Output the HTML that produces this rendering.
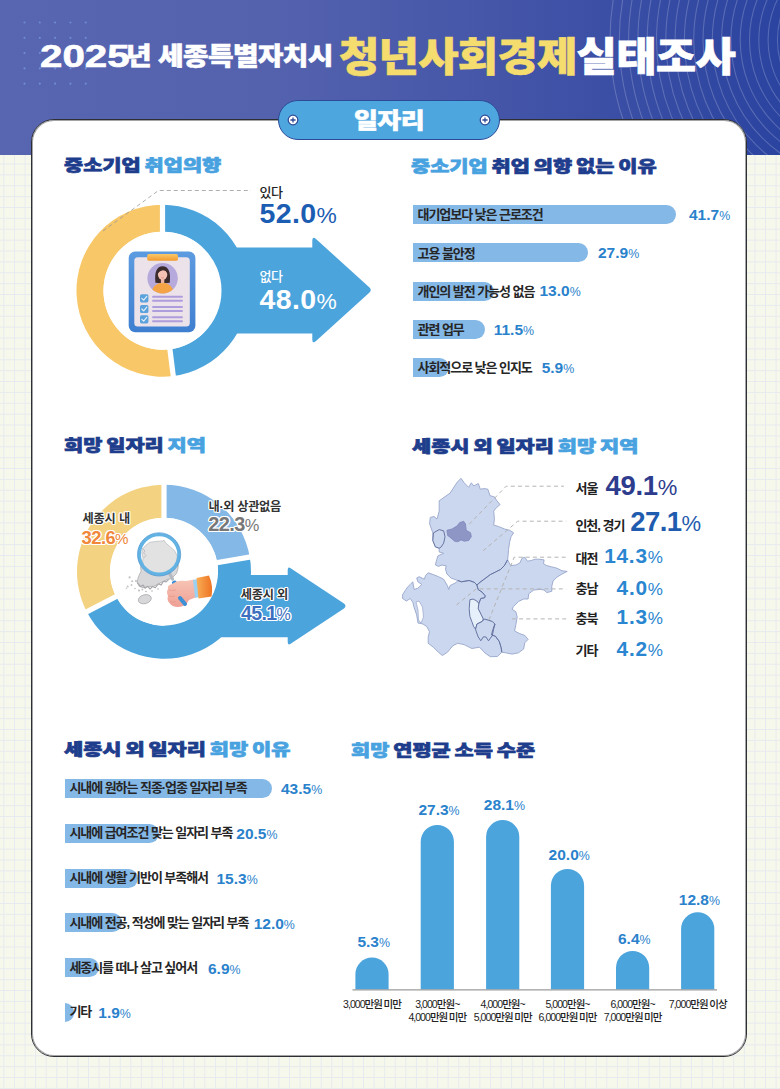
<!DOCTYPE html>
<html lang="ko">
<head>
<meta charset="utf-8">
<title>2025년 세종특별자치시 청년사회경제실태조사 - 일자리</title>
<style>
*{margin:0;padding:0;box-sizing:border-box}
html,body{width:780px;height:1089px;overflow:hidden}
body{position:relative;font-family:"Liberation Sans","Noto Sans CJK KR",sans-serif;color:#222;
background-color:#f6f8ec;
background-image:linear-gradient(to right,#e7eaef 1px,transparent 1px),linear-gradient(to bottom,#e7eaef 1px,transparent 1px);
background-size:10.583px 10.886px;background-position:3.4px 0.4px}
#hdr{position:absolute;left:0;top:0;width:780px;height:155px;background:linear-gradient(90deg,#5865b0 0%,#5462ae 35%,#4455a8 65%,#2b44a0 100%);overflow:hidden}
#card{position:absolute;left:31px;top:119px;width:716px;height:938px;background:#fff;border:1px solid #2e2f34;border-radius:23px;box-shadow:inset 0 0 0 1px rgba(52,53,58,0.45)}
.tx{position:absolute;white-space:nowrap;line-height:1;font-family:"Liberation Sans","Noto Sans CJK KR",sans-serif}
.nm{position:absolute;white-space:nowrap;line-height:1;font-family:"Liberation Sans","Noto Sans CJK KR",sans-serif}
.sec{position:absolute;white-space:nowrap;line-height:1;font-weight:900;color:#1e3d8c;-webkit-text-stroke:0.7px currentColor;font-family:"Liberation Sans","Noto Sans CJK KR",sans-serif}
.sec span{color:#48a2e0;-webkit-text-stroke:0.7px #48a2e0}
svg{position:absolute;overflow:visible}
</style>
</head>
<body>

<div id="hdr"><svg width="780" height="155" style="left:0;top:0">
<g fill="#7fa6e8" opacity="0.6">
<circle cx="24.5" cy="22.5" r="1.1"/>
<circle cx="24.5" cy="37.8" r="1.1"/>
<circle cx="24.5" cy="53.1" r="1.1"/>
<circle cx="24.5" cy="68.4" r="1.1"/>
<circle cx="24.5" cy="83.7" r="1.1"/>
<circle cx="39.8" cy="22.5" r="1.1"/>
<circle cx="39.8" cy="37.8" r="1.1"/>
<circle cx="39.8" cy="53.1" r="1.1"/>
<circle cx="39.8" cy="68.4" r="1.1"/>
<circle cx="39.8" cy="83.7" r="1.1"/>
<circle cx="55.1" cy="22.5" r="1.1"/>
<circle cx="55.1" cy="37.8" r="1.1"/>
<circle cx="55.1" cy="53.1" r="1.1"/>
<circle cx="55.1" cy="68.4" r="1.1"/>
<circle cx="55.1" cy="83.7" r="1.1"/>
<circle cx="70.4" cy="22.5" r="1.1"/>
<circle cx="70.4" cy="37.8" r="1.1"/>
<circle cx="70.4" cy="53.1" r="1.1"/>
<circle cx="70.4" cy="68.4" r="1.1"/>
<circle cx="70.4" cy="83.7" r="1.1"/>
<circle cx="85.7" cy="22.5" r="1.1"/>
<circle cx="85.7" cy="37.8" r="1.1"/>
<circle cx="85.7" cy="53.1" r="1.1"/>
<circle cx="85.7" cy="68.4" r="1.1"/>
<circle cx="85.7" cy="83.7" r="1.1"/>
</g><g fill="none" stroke="#ffffff" stroke-opacity="0.2" stroke-width="1.1">
<circle cx="860" cy="40" r="250.0"/>
<circle cx="860" cy="40" r="240.7"/>
<circle cx="860" cy="40" r="231.4"/>
<circle cx="860" cy="40" r="222.1"/>
<circle cx="860" cy="40" r="212.8"/>
<circle cx="860" cy="40" r="203.5"/>
<circle cx="860" cy="40" r="194.2"/>
<circle cx="860" cy="40" r="184.9"/>
<circle cx="860" cy="40" r="175.6"/>
<circle cx="860" cy="40" r="166.3"/>
<circle cx="860" cy="40" r="157.0"/>
<circle cx="860" cy="40" r="147.7"/>
<circle cx="860" cy="40" r="138.4"/>
<circle cx="860" cy="40" r="129.1"/>
<circle cx="860" cy="40" r="119.8"/>
<circle cx="860" cy="40" r="110.5"/>
<circle cx="860" cy="40" r="101.2"/>
<circle cx="860" cy="40" r="91.9"/>
<circle cx="860" cy="40" r="82.6"/>
<circle cx="860" cy="40" r="73.3"/>
<circle cx="860" cy="40" r="64.0"/>
<circle cx="860" cy="40" r="54.7"/>
</g></svg></div>
<div class="tx" style="left:40.2px;top:40.8px;font-size:31.5px;font-weight:700;color:#fff;transform:scaleX(1.28);transform-origin:0 0;font-family:'Liberation Sans',sans-serif;-webkit-text-stroke:0.6px #fff">2025</div>
<div class="tx" style="left:125.9px;top:44.5px;font-size:24.5px;font-weight:900;color:#fff;letter-spacing:-0.6px;transform:scaleX(1.1375);transform-origin:0 0;-webkit-text-stroke:0.5px #fff;">년 세종특별자치시</div>
<div class="tx" style="left:339px;top:36.5px;font-size:40px;font-weight:900;color:#fff;letter-spacing:-0.8px;transform:scaleX(1.1);transform-origin:0 0;-webkit-text-stroke:0.6px #fff;"><span style="color:#f4dc6e;-webkit-text-stroke:0.6px #f4dc6e">청년사회경제</span>실태조사</div>
<div id="card"></div>
<div style="position:absolute;left:277.5px;top:99.5px;width:222px;height:40.5px;border-radius:20px;background:#4ea6df;border:1.5px solid #2d4a98"></div>
<svg width="12" height="12" style="left:287.2px;top:114px"><circle cx="6" cy="6" r="4.8" fill="#fff" stroke="#2d4a98" stroke-width="1.2"/><path d="M3.4,6H8.6M6,3.4V8.6" stroke="#2d4a98" stroke-width="1.3"/></svg>
<svg width="12" height="12" style="left:478.5px;top:114px"><circle cx="6" cy="6" r="4.8" fill="#fff" stroke="#2d4a98" stroke-width="1.2"/><path d="M3.4,6H8.6M6,3.4V8.6" stroke="#2d4a98" stroke-width="1.3"/></svg>
<div class="tx" style="left:354px;top:110.5px;font-size:21.5px;font-weight:900;color:#fff;letter-spacing:-0.5px;transform:scaleX(1.21);transform-origin:0 0;-webkit-text-stroke:0.5px #fff;">일자리</div>
<div class="sec" style="left:64.2px;top:157.2px;font-size:16.3px;letter-spacing:0.0px;word-spacing:-1.5px;transform:scaleX(1.28);transform-origin:0 0">중소기업 <span>취업의향</span></div>
<div class="sec" style="left:410.5px;top:157.6px;font-size:16.3px;letter-spacing:0.0px;word-spacing:-1.5px;transform:scaleX(1.28);transform-origin:0 0"><span>중소기업</span> 취업 의향 없는 이유</div>
<div class="sec" style="left:64.3px;top:436.8px;font-size:16.3px;letter-spacing:0.0px;word-spacing:-1.5px;transform:scaleX(1.28);transform-origin:0 0">희망 일자리 <span>지역</span></div>
<div class="sec" style="left:411.7px;top:437.8px;font-size:16.3px;letter-spacing:0.0px;word-spacing:-1.5px;transform:scaleX(1.28);transform-origin:0 0">세종시 외 일자리 <span>희망 지역</span></div>
<div class="sec" style="left:64.4px;top:741.3px;font-size:16.3px;letter-spacing:0.0px;word-spacing:-1.5px;transform:scaleX(1.28);transform-origin:0 0">세종시 외 일자리 <span>희망 이유</span></div>
<div class="sec" style="left:350.8px;top:741.6px;font-size:16.3px;letter-spacing:0.0px;word-spacing:-1.5px;transform:scaleX(1.28);transform-origin:0 0"><span>희망</span> 연평균 소득 수준</div>
<svg width="780" height="1089" style="left:0;top:0">
<path d="M173.28,376.02 A86,86 0 1 1 162.50,204.70 L162.50,231.70 A59,59 0 1 0 169.89,349.23 Z" fill="#f7c768"/>
<path d="M162.50,204.70 A86,86 0 0 1 173.28,376.02 L169.89,349.23 A59,59 0 0 0 162.50,231.70 Z" fill="#4ca4dd"/>
<path d="M162.5,247.6 L312.3,247.6 L312.3,240.5 Q312.3,236 316,239 L369.5,287.5 Q372,290 369.5,292.5 L316,341 Q312.3,344 312.3,339.5 L312.3,333.6 L162.5,333.6 Z" fill="#4ca4dd"/>
<circle cx="162.5" cy="290.7" r="59" fill="#fff"/>
<line x1="162.50" y1="290.70" x2="162.50" y2="200.70" stroke="#fff" stroke-width="5.2"/>
<line x1="162.50" y1="290.70" x2="173.78" y2="379.99" stroke="#fff" stroke-width="5.2"/>
<path d="M103,231 L158.5,190.5 L251,190.5" fill="none" stroke="#9a9a9a" stroke-width="1" stroke-dasharray="4,3" opacity="0.8"/>
</svg>
<svg width="780" height="1089" style="left:0;top:0">
<defs>
<linearGradient id="cbg" x1="0" y1="0" x2="0" y2="1"><stop offset="0" stop-color="#5c9be0"/><stop offset="1" stop-color="#3f7fd0"/></linearGradient>
<linearGradient id="clipg" x1="0" y1="0" x2="0" y2="1"><stop offset="0" stop-color="#fbc86a"/><stop offset="1" stop-color="#f39a2e"/></linearGradient>
<clipPath id="avc"><circle cx="162.6" cy="278.3" r="15.2"/></clipPath>
</defs>
<rect x="128.7" y="251.5" width="66.7" height="80.7" rx="6.5" fill="url(#cbg)"/>
<rect x="134.3" y="257.3" width="55.5" height="69.1" rx="3.5" fill="#ece2ea"/>
<rect x="147.2" y="254" width="30.8" height="6.8" rx="1.8" fill="url(#clipg)"/>
<circle cx="162.6" cy="278.3" r="15.2" fill="#b6a9dc"/>
<g clip-path="url(#avc)">
<path d="M150.8,297 Q151,283.8 162.6,282.6 Q174.2,283.8 174.4,297 Z" fill="#f5a445"/>
<path d="M155.4,282.8 Q153.8,266.3 162.6,266.2 Q171.4,266.3 169.8,282.8 L166.8,283 L158.4,283 Z" fill="#3b2b2c"/>
<rect x="160.9" y="278" width="3.4" height="5.2" fill="#eab3a3"/>
<ellipse cx="162.6" cy="274.6" rx="4.7" ry="5.2" fill="#f3c2b4"/>
<path d="M157.6,273.5 Q157.8,268 162.6,268.1 Q167.4,268 167.6,273.5 Q166,270.3 162.8,270.2 Q160,270.5 157.6,273.5 Z" fill="#3b2b2c"/>
<path d="M161.2,277.6 Q162.6,278.4 164,277.6" stroke="#d9807a" stroke-width="0.6" fill="none"/>
</g>
<g fill="#5ba2dc">
<rect x="140" y="294.2" width="8.4" height="8.2" rx="1.6"/>
<rect x="140" y="304.9" width="8.4" height="8.2" rx="1.6"/>
<rect x="140" y="315.2" width="8.4" height="8.2" rx="1.6"/>
</g>
<g fill="none" stroke="#e3eff8" stroke-width="1.15" stroke-linecap="round" stroke-linejoin="round">
<path d="M141.8,298.3 L143.7,300.2 L146.8,296.4"/>
<path d="M141.8,309 L143.7,310.9 L146.8,307.1"/>
<path d="M141.8,319.3 L143.7,321.2 L146.8,317.4"/>
</g>
<g stroke="#ad9ddc" stroke-width="1.9" stroke-linecap="round">
<line x1="153" y1="296.7" x2="182" y2="296.7"/><line x1="153" y1="300.8" x2="182" y2="300.8"/>
<line x1="153" y1="307" x2="182" y2="307"/><line x1="153" y1="311" x2="182" y2="311"/>
<line x1="153" y1="317.2" x2="182" y2="317.2"/><line x1="153" y1="321.3" x2="182" y2="321.3"/>
</g>
</svg>
<div class="tx" style="left:259.5px;top:185.5px;font-size:13px;font-weight:500;color:#222;letter-spacing:-0.5px;">있다</div>
<div class="nm" style="left:259.5px;top:198.7px;font-size:28.5px;font-weight:700;color:#1b5db3;letter-spacing:0.4px;">52.0<span style="font-size:0.8em;font-weight:400;letter-spacing:0">%</span></div>
<div class="tx" style="left:259.5px;top:270.0px;font-size:13px;font-weight:500;color:#fff;letter-spacing:-0.5px;">없다</div>
<div class="nm" style="left:259.5px;top:284.7px;font-size:28.5px;font-weight:700;color:#fff;letter-spacing:0.4px;">48.0<span style="font-size:0.8em;font-weight:400;letter-spacing:0">%</span></div>
<svg width="780" height="1089" style="left:0;top:0">
<path d="M86.76,611.74 A87,87 0 0 1 164.00,484.70 L164.00,517.70 A54,54 0 0 0 116.06,596.55 Z" fill="#f3d382"/>
<path d="M164.00,484.70 A87,87 0 0 1 249.76,557.04 L217.23,562.60 A54,54 0 0 0 164.00,517.70 Z" fill="#84b8e6"/>
<path d="M249.76,557.04 A87,87 0 0 1 86.76,611.74 L116.06,596.55 A54,54 0 0 0 217.23,562.60 Z" fill="#4ca4dd"/>
<path d="M164,575 L287.7,575 L287.7,570 Q287.7,566 291,568.5 L344,603.5 Q347,606 344,608.5 L291,643.5 Q287.7,646 287.7,642 L287.7,637.3 L164,637.3 Z" fill="#4ca4dd"/>
<circle cx="164" cy="571.7" r="54" fill="#fff"/>
<line x1="164.00" y1="571.70" x2="164.00" y2="480.70" stroke="#fff" stroke-width="5.2"/>
<line x1="164.00" y1="571.70" x2="253.70" y2="556.37" stroke="#fff" stroke-width="5.2"/>
<line x1="164.00" y1="571.70" x2="83.21" y2="613.58" stroke="#fff" stroke-width="5.2"/>
</svg>
<svg width="780" height="1089" style="left:0;top:0">
<defs>
<linearGradient id="slv" x1="0" y1="0" x2="1" y2="0"><stop offset="0" stop-color="#f9ad55"/><stop offset="1" stop-color="#ee7424"/></linearGradient>
<linearGradient id="hnd" x1="0" y1="0" x2="0" y2="1"><stop offset="0" stop-color="#f7c5b5"/><stop offset="1" stop-color="#ef9f95"/></linearGradient>
</defs>
<g fill="#d8d8da" stroke="#a3a3a8" stroke-width="0.7" stroke-linejoin="round">
<polygon points="150.1,542.2 155.9,541.5 162.3,540.9 164.2,540.3 165.5,542.8 170.0,546.7 174.5,550.5 177.1,555.6 177.1,560.8 178.3,565.9 177.7,569.7 176.4,573.6 173.8,576.2 171.3,578.7 167.4,579.4 163.6,581.3 158.5,583.8 153.3,586.4 148.2,586.4 143.1,587.7 139.2,586.4 137.3,582.6 137.9,578.7 139.2,574.9 141.2,571.0 140.5,567.2 142.4,563.3 143.1,558.2 141.8,553.1 142.4,549.2 145.6,545.4"/>
<ellipse cx="144.8" cy="599.2" rx="6.6" ry="4.4" transform="rotate(-15 144.8 599.2)"/>
</g>
<g fill="#c2c2c6">
<circle cx="129.6" cy="577.4" r="1.1"/><circle cx="132.2" cy="581.3" r="1"/><circle cx="127.7" cy="586.4" r="1"/><circle cx="131.5" cy="585" r="0.9"/><circle cx="126.4" cy="588.3" r="0.8"/><circle cx="142.4" cy="589.5" r="0.9"/><circle cx="135" cy="588.5" r="0.8"/>
</g>
<path d="M137.3,582.6 L140.5,586.4 L143.1,585.1 L145,588.3 L147.6,586.4 L150.1,589 L152.7,586.4 L155.3,587.7 L158.5,583.8 L161,585.1 L163.6,581.3 L166.2,581.9 L168.7,579.4" fill="none" stroke="#a6a6ab" stroke-width="1.1" stroke-linejoin="round"/>
<path d="M142.6,548.5 L145,551 L143.5,553 L146,555.5 L143.8,558 M141.5,561 L143.5,563.5 L141.6,566" fill="none" stroke="#a6a6ab" stroke-width="0.9"/>
<g fill="#b4b4b8"><circle cx="136" cy="581" r="0.9"/><circle cx="139" cy="590.5" r="0.9"/><circle cx="146" cy="591.5" r="0.8"/><circle cx="152" cy="591" r="0.8"/><circle cx="158" cy="589" r="0.8"/></g>
<circle cx="159.1" cy="554.4" r="19.5" fill="#ffffff" fill-opacity="0.25"/>
<path d="M168.5,571.5 L172.5,579" stroke="#b5b9c0" stroke-width="3.2" stroke-linecap="round"/>
<path d="M174.5,583 L184.5,602.5" stroke="#3d8fd6" stroke-width="5" stroke-linecap="round"/>
<circle cx="159.1" cy="554.4" r="19.8" fill="none" stroke="#62b3e4" stroke-width="3.3"/>
<circle cx="159.1" cy="554.4" r="21.6" fill="none" stroke="#3f8fd0" stroke-width="0.7"/>
<path d="M172,584 Q178,579.5 186,581 L194,579.5 L196.5,597 L189,600 Q186,606.5 178,607 Q172,607 169.5,603 Q166.5,600 168,596 Q166,592 168,589 Q167,585 172,584 Z" fill="url(#hnd)"/>
<path d="M169,590 Q173,591 176,590 M168.5,596 Q172,597 175,596 M170,601.5 Q173,602.5 176,601.5" stroke="#e8998c" stroke-width="0.8" fill="none"/>
<path d="M180,598 L185,604" stroke="#3d8fd6" stroke-width="4" stroke-linecap="round"/>
<path d="M193,580 L197.5,579 L199,597 L195,598 Z" fill="#9bd0f0"/>
<path d="M196.5,578 L209,575.5 Q213.5,586 211.5,596.5 L198.5,598.5 Z" fill="url(#slv)"/>
</svg>
<div class="tx" style="left:82.4px;top:513.2px;font-size:12.2px;font-weight:700;color:#333;letter-spacing:-0.1px;text-shadow:-1.2px 0 #fff,1.2px 0 #fff,0 -1.2px #fff,0 1.2px #fff,-0.85px -0.85px #fff,0.85px 0.85px #fff,-0.85px 0.85px #fff,0.85px -0.85px #fff;">세종시 내</div>
<div class="nm" style="left:81.5px;top:528.7px;font-size:18.5px;font-weight:700;color:#f0873a;letter-spacing:-0.6px;text-shadow:-1.2px 0 #fff,1.2px 0 #fff,0 -1.2px #fff,0 1.2px #fff,-0.85px -0.85px #fff,0.85px 0.85px #fff,-0.85px 0.85px #fff,0.85px -0.85px #fff;">32.6<span style="font-size:0.82em;font-weight:400;letter-spacing:0">%</span></div>
<div class="tx" style="left:208.6px;top:500.6px;font-size:12.2px;font-weight:700;color:#333;letter-spacing:-0.3px;text-shadow:-1.2px 0 #fff,1.2px 0 #fff,0 -1.2px #fff,0 1.2px #fff,-0.85px -0.85px #fff,0.85px 0.85px #fff,-0.85px 0.85px #fff,0.85px -0.85px #fff;">내·외 상관없음</div>
<div class="nm" style="left:208.3px;top:514.3px;font-size:20px;font-weight:700;color:#777;letter-spacing:-0.6px;text-shadow:-1.2px 0 #fff,1.2px 0 #fff,0 -1.2px #fff,0 1.2px #fff,-0.85px -0.85px #fff,0.85px 0.85px #fff,-0.85px 0.85px #fff,0.85px -0.85px #fff;">22.3<span style="font-size:0.82em;font-weight:400;letter-spacing:0">%</span></div>
<div class="tx" style="left:240.8px;top:588.5px;font-size:12.2px;font-weight:700;color:#333;letter-spacing:-0.2px;text-shadow:-1.2px 0 #fff,1.2px 0 #fff,0 -1.2px #fff,0 1.2px #fff,-0.85px -0.85px #fff,0.85px 0.85px #fff,-0.85px 0.85px #fff,0.85px -0.85px #fff;">세종시 외</div>
<div class="nm" style="left:241px;top:604.4px;font-size:19.5px;font-weight:700;color:#3d6fc0;letter-spacing:-0.6px;text-shadow:-1.2px 0 #fff,1.2px 0 #fff,0 -1.2px #fff,0 1.2px #fff,-0.85px -0.85px #fff,0.85px 0.85px #fff,-0.85px 0.85px #fff,0.85px -0.85px #fff;">45.1<span style="font-size:0.82em;font-weight:400;letter-spacing:0">%</span></div>
<svg width="780" height="1089" style="left:0;top:0"><g stroke-linejoin="round"><polygon points="439.2,500.8 450.1,493.1 457.2,482.2 461.0,478.3 464.2,482.8 468.7,487.3 471.3,482.8 473.8,486.0 478.3,483.5 480.3,489.2 484.1,488.6 487.9,489.2 489.9,495.6 494.4,496.9 496.9,500.8 500.1,504.6 496.9,507.2 493.7,511.0 494.4,518.7 493.7,525.1 498.2,526.4 504.6,529.0 509.7,530.3 513.6,532.8 511.0,536.7 509.7,541.8 508.5,549.5 508.2,554.1 507.6,559.9 504.4,565.6 500.5,569.5 495.4,572.1 490.3,574.6 485.1,578.5 480.0,582.3 476.9,585.0 474.4,582.4 469.2,580.5 461.5,581.8 457.7,580.5 451.0,578.0 446.9,574.0 445.5,569.0 446.2,565.8 442.0,565.0 438.5,566.4 435.4,564.9 436.7,559.7 437.9,555.9 443.7,553.3 439.2,552.0 439.2,548.2 435.4,546.9 432.8,540.5 432.8,532.8 429.6,523.8 430.3,517.4 434.0,516.5 437.0,519.0 439.2,511.0" fill="#cbd7ee" stroke="#98a6cc" stroke-width="0.9"/><polygon points="457.7,580.5 461.5,581.8 469.2,580.5 474.4,582.4 476.9,585.0 478.2,589.5 482.1,592.1 485.3,595.9 484.6,597.8 480.8,598.5 478.8,603.6 478.2,608.7 481.4,615.1 483.3,619.0 488.5,620.3 492.3,621.5 494.9,624.1 492.8,629.7 491.5,634.9 495.4,636.2 499.2,641.3 501.2,647.7 501.8,652.2 497.4,656.5 490.3,656.7 485.0,653.0 479.5,647.2 471.8,648.5 464.1,644.6 457.7,643.3 452.6,645.9 447.4,652.3 442.3,655.5 438.5,652.3 433.3,647.2 428.2,643.3 428.2,636.9 429.5,631.8 426.9,626.7 423.0,624.0 418.0,623.0 416.7,615.1 414.1,607.4 412.8,602.3 410.3,598.5 406.4,601.0 402.6,598.5 402.6,594.6 405.1,590.8 407.7,586.9 410.3,584.4 412.8,581.8 414.1,589.5 417.9,588.2 421.8,584.4 417.9,581.8 416.7,578.0 419.2,576.7 424.4,579.2 425.6,575.4 428.2,572.8 432.0,574.1 438.5,576.7 443.6,579.2 447.4,585.6 448.7,589.5 450.0,585.6 456.4,582.4" fill="#cbd7ee" stroke="#98a6cc" stroke-width="0.9"/><polygon points="507.6,559.9 510.8,565.6 515.9,565.0 519.7,563.1 522.3,557.9 524.9,557.3 527.4,561.2 531.3,560.5 535.1,559.2 539.0,559.2 544.1,559.9 543.5,563.7 546.7,565.6 551.8,566.9 556.9,568.2 562.1,570.8 567.2,571.4 562.1,574.0 556.9,577.2 553.1,581.0 551.8,586.2 551.8,591.3 546.7,592.6 544.1,590.0 540.3,589.4 533.8,590.0 528.7,593.8 528.1,599.0 523.6,599.0 518.5,601.5 513.3,606.7 512.1,609.2 515.9,611.8 517.2,616.9 515.9,624.6 514.6,631.0 519.7,633.6 524.9,635.5 528.1,639.4 524.9,642.6 523.6,649.0 518.5,652.8 512.1,654.1 505.6,652.8 501.8,652.2 501.2,647.7 499.2,641.3 495.4,636.2 491.5,634.9 492.8,629.7 494.9,624.1 492.3,621.5 488.5,620.3 483.3,619.0 481.4,615.1 478.2,608.7 478.8,603.6 480.8,598.5 484.6,597.8 485.3,595.9 482.1,592.1 478.2,589.5 476.9,585.0 480.0,582.3 485.1,578.5 490.3,574.6 495.4,572.1 500.5,569.5 504.4,565.6" fill="#cbd7ee" stroke="#98a6cc" stroke-width="0.9"/><polygon points="416.0,602.0 419.0,601.0 422.5,607.0 423.5,617.0 421.0,623.0 418.5,620.0 418.0,610.0" fill="#fff" stroke="#98a6cc" stroke-width="0.7"/><polygon points="469.9,599.7 473.1,599.1 476.9,601.0 478.8,603.6 478.2,608.7 481.4,615.1 483.3,619.0 482.1,621.5 476.9,624.1 475.6,629.2 473.7,626.7 471.8,621.5 469.9,616.4 469.2,608.7" fill="#e6f0fa" stroke="#5c6a9a" stroke-width="0.9"/><polygon points="476.9,624.1 482.1,621.5 484.6,619.0 488.5,620.3 492.3,621.5 494.9,624.1 493.6,629.2 492.3,635.6 488.5,640.8 485.9,636.9 483.3,636.9 480.8,640.8 478.2,636.9 476.3,631.8 475.6,629.2" fill="#cbd7ee" stroke="#5c6a9a" stroke-width="0.9"/><polygon points="433.5,532.8 439.2,529.6 443.7,530.9 445.0,536.7 443.7,543.1 441.2,546.9 439.2,548.2 435.4,546.9 432.8,540.5" fill="#cbd7ee" stroke="#5c6a9a" stroke-width="0.9"/><polygon points="446.9,530.3 452.1,529.0 457.2,525.8 459.7,522.6 463.6,521.3 465.5,523.8 466.2,530.3 470.6,532.8 471.3,536.7 468.7,540.5 464.2,541.2 461.0,539.9 457.8,541.8 454.6,541.2 450.8,537.9 447.6,535.4" fill="#8e96c5" stroke="#7d87bb" stroke-width="0.8"/><path d="M507.6,559.9 L504.4,565.6 L500.5,569.5 L495.4,572.1 L490.3,574.6 L485.1,578.5 L480.0,582.3 L476.9,585.0 M457.7,580.5 L461.5,581.8 L469.2,580.5 L474.4,582.4 L476.9,585.0 L478.2,589.5 L482.1,592.1 L485.3,595.9 L484.6,597.8 L480.8,598.5 L478.8,603.6 M494.9,624.1 L492.8,629.7 L491.5,634.9 L495.4,636.2 L499.2,641.3 L501.2,647.7 L501.8,652.2" fill="none" stroke="#5c6a9a" stroke-width="0.9"/></g><g fill="none" stroke="#b4b4b4" stroke-width="1" stroke-dasharray="4,3.2"><path d="M469.2,524.2 L506.2,486.2 L563.9,486.2"/><path d="M483.1,550.8 L517.7,521.2 L566.2,521.2"/><path d="M488.9,620 L514.2,557.2 L566.2,557.2"/><path d="M456.5,605 L476.2,588.9 L566.2,588.9"/><path d="M511.9,618.9 L566.2,618.9"/></g></svg>
<div class="tx" style="left:575.4px;top:482.4px;font-size:13px;font-weight:700;color:#222;letter-spacing:-0.8px;">서울</div>
<div class="nm" style="left:605.5px;top:471.5px;font-size:27.5px;font-weight:700;color:#2e3c8e;letter-spacing:-0.3px;">49.1<span style="font-size:0.8em;font-weight:400;letter-spacing:0">%</span></div>
<div class="tx" style="left:575.4px;top:519.4px;font-size:13px;font-weight:700;color:#222;letter-spacing:-1.0px;">인천, 경기</div>
<div class="nm" style="left:630.3px;top:508.3px;font-size:27.5px;font-weight:700;color:#1f5bae;letter-spacing:-0.6px;">27.1<span style="font-size:0.8em;font-weight:400;letter-spacing:0">%</span></div>
<div class="tx" style="left:575.4px;top:552.2px;font-size:13px;font-weight:700;color:#222;letter-spacing:-0.8px;">대전</div>
<div class="nm" style="right:117px;top:546.0px;font-size:20.8px;font-weight:700;color:#2a86d0;letter-spacing:0.8px;">14.3<span style="font-size:0.82em;font-weight:400;letter-spacing:0">%</span></div>
<div class="tx" style="left:575.4px;top:582.0px;font-size:13px;font-weight:700;color:#222;letter-spacing:-0.8px;">충남</div>
<div class="nm" style="right:117px;top:577.8px;font-size:20.8px;font-weight:700;color:#2a86d0;letter-spacing:0.8px;">4.0<span style="font-size:0.82em;font-weight:400;letter-spacing:0">%</span></div>
<div class="tx" style="left:575.4px;top:612.3px;font-size:13px;font-weight:700;color:#222;letter-spacing:-0.8px;">충북</div>
<div class="nm" style="right:117px;top:606.7px;font-size:20.8px;font-weight:700;color:#2a86d0;letter-spacing:0.8px;">1.3<span style="font-size:0.82em;font-weight:400;letter-spacing:0">%</span></div>
<div class="tx" style="left:575.4px;top:643.5px;font-size:13px;font-weight:700;color:#222;letter-spacing:-0.8px;">기타</div>
<div class="nm" style="right:117px;top:638.7px;font-size:20.8px;font-weight:700;color:#2a86d0;letter-spacing:0.8px;">4.2<span style="font-size:0.82em;font-weight:400;letter-spacing:0">%</span></div>
<div style="position:absolute;left:412.8px;top:204.9px;width:263.5px;height:19.2px;background:#84b8e6;border-radius:0 9.6px 9.6px 0"></div>
<div class="tx" style="left:417.5px;top:208.2px;font-size:13px;font-weight:700;color:#262626;letter-spacing:-1.05px;">대기업보다 낮은 근로조건</div>
<div class="nm" style="left:689px;top:206.8px;font-size:15.5px;font-weight:700;color:#2a82cc;letter-spacing:0px;">41.7<span style="font-size:0.8em;font-weight:400;letter-spacing:0">%</span></div>
<div style="position:absolute;left:412.8px;top:243.2px;width:175.2px;height:19.2px;background:#84b8e6;border-radius:0 9.6px 9.6px 0"></div>
<div class="tx" style="left:417.5px;top:246.5px;font-size:13px;font-weight:700;color:#262626;letter-spacing:-1.05px;">고용 불안정</div>
<div class="nm" style="left:598px;top:245.1px;font-size:15.5px;font-weight:700;color:#2a82cc;letter-spacing:0px;">27.9<span style="font-size:0.8em;font-weight:400;letter-spacing:0">%</span></div>
<div style="position:absolute;left:412.8px;top:281.5px;width:81.2px;height:19.2px;background:#84b8e6;border-radius:0 9.6px 9.6px 0"></div>
<div class="tx" style="left:417.5px;top:284.8px;font-size:13px;font-weight:700;color:#262626;letter-spacing:-1.05px;">개인의 발전 가능성 없음</div>
<div class="nm" style="left:539.5px;top:283.4px;font-size:15.5px;font-weight:700;color:#2a82cc;letter-spacing:0px;">13.0<span style="font-size:0.8em;font-weight:400;letter-spacing:0">%</span></div>
<div style="position:absolute;left:412.8px;top:319.8px;width:72.2px;height:19.2px;background:#84b8e6;border-radius:0 9.6px 9.6px 0"></div>
<div class="tx" style="left:417.5px;top:323.1px;font-size:13px;font-weight:700;color:#262626;letter-spacing:-1.05px;">관련 업무</div>
<div class="nm" style="left:493.7px;top:321.7px;font-size:15.5px;font-weight:700;color:#2a82cc;letter-spacing:0px;">11.5<span style="font-size:0.8em;font-weight:400;letter-spacing:0">%</span></div>
<div style="position:absolute;left:412.8px;top:358.1px;width:36.2px;height:19.2px;background:#84b8e6;border-radius:0 9.6px 9.6px 0"></div>
<div class="tx" style="left:417.5px;top:361.4px;font-size:13px;font-weight:700;color:#262626;letter-spacing:-1.05px;">사회적으로 낮은 인지도</div>
<div class="nm" style="left:541.7px;top:360.0px;font-size:15.5px;font-weight:700;color:#2a82cc;letter-spacing:0px;">5.9<span style="font-size:0.8em;font-weight:400;letter-spacing:0">%</span></div>
<div style="position:absolute;left:65px;top:779.0px;width:207.2px;height:19px;background:#84b8e6;border-radius:0 9.5px 9.5px 0"></div>
<div class="tx" style="left:69.4px;top:781.4px;font-size:13px;font-weight:700;color:#262626;letter-spacing:-1.05px;">시내에 원하는 직종·업종 일자리 부족</div>
<div class="nm" style="left:281px;top:781.3px;font-size:15.5px;font-weight:700;color:#2a82cc;letter-spacing:0px;">43.5<span style="font-size:0.8em;font-weight:400;letter-spacing:0">%</span></div>
<div style="position:absolute;left:65px;top:823.8px;width:94.0px;height:19px;background:#84b8e6;border-radius:0 9.5px 9.5px 0"></div>
<div class="tx" style="left:69.4px;top:826.2px;font-size:13px;font-weight:700;color:#262626;letter-spacing:-1.05px;">시내에 급여조건 맞는 일자리 부족</div>
<div class="nm" style="left:236.3px;top:826.1px;font-size:15.5px;font-weight:700;color:#2a82cc;letter-spacing:0px;">20.5<span style="font-size:0.8em;font-weight:400;letter-spacing:0">%</span></div>
<div style="position:absolute;left:65px;top:868.6px;width:72.5px;height:19px;background:#84b8e6;border-radius:0 9.5px 9.5px 0"></div>
<div class="tx" style="left:69.4px;top:871.0px;font-size:13px;font-weight:700;color:#262626;letter-spacing:-1.05px;">시내에 생활 기반이 부족해서</div>
<div class="nm" style="left:216.5px;top:870.9px;font-size:15.5px;font-weight:700;color:#2a82cc;letter-spacing:0px;">15.3<span style="font-size:0.8em;font-weight:400;letter-spacing:0">%</span></div>
<div style="position:absolute;left:65px;top:913.4px;width:57.0px;height:19px;background:#84b8e6;border-radius:0 9.5px 9.5px 0"></div>
<div class="tx" style="left:69.4px;top:915.8px;font-size:13px;font-weight:700;color:#262626;letter-spacing:-1.05px;">시내에 전공, 적성에 맞는 일자리 부족</div>
<div class="nm" style="left:253.7px;top:915.7px;font-size:15.5px;font-weight:700;color:#2a82cc;letter-spacing:0px;">12.0<span style="font-size:0.8em;font-weight:400;letter-spacing:0">%</span></div>
<div style="position:absolute;left:65px;top:958.2px;width:33.8px;height:19px;background:#84b8e6;border-radius:0 9.5px 9.5px 0"></div>
<div class="tx" style="left:69.4px;top:960.6px;font-size:13px;font-weight:700;color:#262626;letter-spacing:-1.05px;">세종시를 떠나 살고 싶어서</div>
<div class="nm" style="left:208px;top:960.5px;font-size:15.5px;font-weight:700;color:#2a82cc;letter-spacing:0px;">6.9<span style="font-size:0.8em;font-weight:400;letter-spacing:0">%</span></div>
<div style="position:absolute;left:65px;top:1003.0px;width:9.0px;height:19px;background:#84b8e6;border-radius:0 9.5px 9.5px 0"></div>
<div class="tx" style="left:69.4px;top:1005.4px;font-size:13px;font-weight:700;color:#262626;letter-spacing:-1.05px;">기타</div>
<div class="nm" style="left:98.3px;top:1005.3px;font-size:15.5px;font-weight:700;color:#2a82cc;letter-spacing:0px;">1.9<span style="font-size:0.8em;font-weight:400;letter-spacing:0">%</span></div>
<svg width="780" height="1089" style="left:0;top:0">
<path d="M355.4,989.5 L355.4,974.1410000000001 A16.6,16.6 0 0 1 388.59999999999997,974.1410000000001 L388.59999999999997,989.5 Z" fill="#4ca4dd"/>
<path d="M420.7,989.5 L420.7,841.481 A16.6,16.6 0 0 1 453.9,841.481 L453.9,989.5 Z" fill="#4ca4dd"/>
<path d="M486.09999999999997,989.5 L486.09999999999997,836.657 A16.6,16.6 0 0 1 519.3,836.657 L519.3,989.5 Z" fill="#4ca4dd"/>
<path d="M550.9,989.5 L550.9,885.5 A16.6,16.6 0 0 1 584.1,885.5 L584.1,989.5 Z" fill="#4ca4dd"/>
<path d="M616.0,989.5 L616.0,967.508 A16.6,16.6 0 0 1 649.2,967.508 L649.2,989.5 Z" fill="#4ca4dd"/>
<path d="M681.1,989.5 L681.1,928.916 A16.6,16.6 0 0 1 714.3000000000001,928.916 L714.3000000000001,989.5 Z" fill="#4ca4dd"/>
<line x1="352.5" y1="989.8" x2="717" y2="989.8" stroke="#9b9b9b" stroke-width="1.3"/>
</svg>
<div class="nm" style="left:333.7px;width:80px;text-align:center;top:933.9px;font-size:15.5px;font-weight:700;color:#2a82cc;letter-spacing:0px">5.3<span style="font-size:0.8em;font-weight:400;letter-spacing:0">%</span></div>
<div class="tx" style="left:327px;width:90px;text-align:center;top:998.6px;font-size:10.5px;font-weight:500;color:#222;letter-spacing:-0.95px;word-spacing:-0.5px">3,000만원 미만</div>
<div class="nm" style="left:399.0px;width:80px;text-align:center;top:801.7px;font-size:15.5px;font-weight:700;color:#2a82cc;letter-spacing:0px">27.3<span style="font-size:0.8em;font-weight:400;letter-spacing:0">%</span></div>
<div class="tx" style="left:392.3px;width:90px;text-align:center;top:998.6px;font-size:10.5px;font-weight:500;color:#222;letter-spacing:-0.95px;word-spacing:-0.5px">3,000만원~</div>
<div class="tx" style="left:392.3px;width:90px;text-align:center;top:1012.2px;font-size:10.5px;font-weight:500;color:#222;letter-spacing:-0.95px;word-spacing:-0.5px">4,000만원 미만</div>
<div class="nm" style="left:464.4px;width:80px;text-align:center;top:796.7px;font-size:15.5px;font-weight:700;color:#2a82cc;letter-spacing:0px">28.1<span style="font-size:0.8em;font-weight:400;letter-spacing:0">%</span></div>
<div class="tx" style="left:457.7px;width:90px;text-align:center;top:998.6px;font-size:10.5px;font-weight:500;color:#222;letter-spacing:-0.95px;word-spacing:-0.5px">4,000만원~</div>
<div class="tx" style="left:457.7px;width:90px;text-align:center;top:1012.2px;font-size:10.5px;font-weight:500;color:#222;letter-spacing:-0.95px;word-spacing:-0.5px">5,000만원 미만</div>
<div class="nm" style="left:529.2px;width:80px;text-align:center;top:847.2px;font-size:15.5px;font-weight:700;color:#2a82cc;letter-spacing:0px">20.0<span style="font-size:0.8em;font-weight:400;letter-spacing:0">%</span></div>
<div class="tx" style="left:522.5px;width:90px;text-align:center;top:998.6px;font-size:10.5px;font-weight:500;color:#222;letter-spacing:-0.95px;word-spacing:-0.5px">5,000만원~</div>
<div class="tx" style="left:522.5px;width:90px;text-align:center;top:1012.2px;font-size:10.5px;font-weight:500;color:#222;letter-spacing:-0.95px;word-spacing:-0.5px">6,000만원 미만</div>
<div class="nm" style="left:594.3000000000001px;width:80px;text-align:center;top:930.7px;font-size:15.5px;font-weight:700;color:#2a82cc;letter-spacing:0px">6.4<span style="font-size:0.8em;font-weight:400;letter-spacing:0">%</span></div>
<div class="tx" style="left:587.6px;width:90px;text-align:center;top:998.6px;font-size:10.5px;font-weight:500;color:#222;letter-spacing:-0.95px;word-spacing:-0.5px">6,000만원~</div>
<div class="tx" style="left:587.6px;width:90px;text-align:center;top:1012.2px;font-size:10.5px;font-weight:500;color:#222;letter-spacing:-0.95px;word-spacing:-0.5px">7,000만원 미만</div>
<div class="nm" style="left:659.4000000000001px;width:80px;text-align:center;top:891.5px;font-size:15.5px;font-weight:700;color:#2a82cc;letter-spacing:0px">12.8<span style="font-size:0.8em;font-weight:400;letter-spacing:0">%</span></div>
<div class="tx" style="left:652.7px;width:90px;text-align:center;top:998.6px;font-size:10.5px;font-weight:500;color:#222;letter-spacing:-0.95px;word-spacing:-0.5px">7,000만원 이상</div>
</body></html>
